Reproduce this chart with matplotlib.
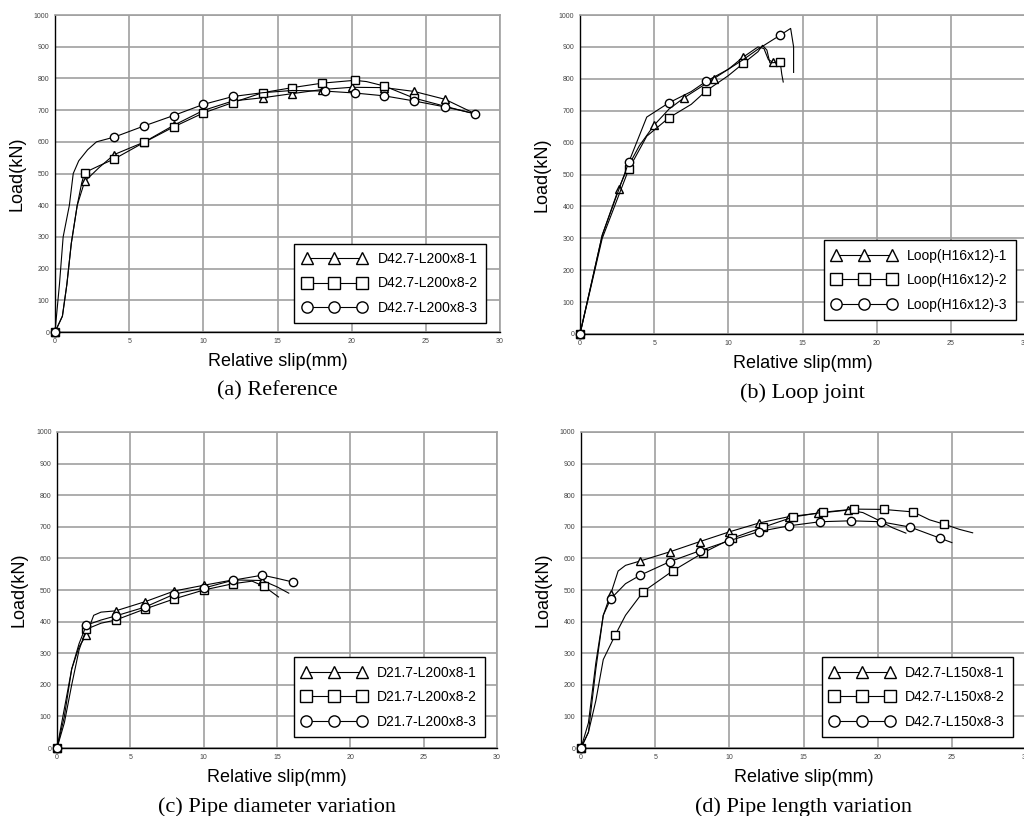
import matplotlib
matplotlib.use("Agg")
import matplotlib.pyplot as plt

plt.rcParams['font.family'] = ['Liberation Sans', 'DejaVu Sans']

# (a) Reference
a_labels = ['D42.7-L200x8-1', 'D42.7-L200x8-2', 'D42.7-L200x8-3']
a1_x = [0, 0.5, 0.8, 1.1, 1.5, 2, 3, 4, 6, 8, 10, 12, 14, 16, 18, 20, 22.2, 24.2, 26.3, 28.3]
a1_y = [0, 50, 150, 280, 400, 475, 520, 560, 599, 652, 699, 729, 739, 752, 765, 772, 771, 759, 734, 689]
a1_m = [0, 5, 7, 8, 9, 10, 11, 12, 13, 14, 15, 16, 17, 18]
a2_x = [0, 0.5, 0.8, 1.1, 1.5, 1.8, 2, 3, 4, 6, 8, 10, 12, 14, 16, 18, 20.2, 21, 22.2, 24.2, 26.3, 28.3]
a2_y = [0, 50, 150, 280, 400, 470, 503, 525, 546, 598, 647, 691, 724, 755, 771, 785, 794, 790, 776, 738, 712, 688]
a2_m = [0, 6, 8, 9, 10, 11, 12, 13, 14, 15, 16, 18, 19]
a3_x = [0, 0.3, 0.55, 0.97, 1.23, 1.6, 2.2, 2.8, 4, 6, 8, 10, 12, 14, 16, 18.2, 20.2, 22.2, 24.2, 26.3, 28.3]
a3_y = [0, 150, 300, 400, 500, 540, 575, 600, 615, 650, 683, 718, 743, 755, 762, 760, 754, 745, 729, 710, 689]
a3_m = [0, 8, 9, 10, 11, 12, 15, 16, 17, 18, 19, 20]

# (b) Loop joint
b_labels = ['Loop(H16x12)-1', 'Loop(H16x12)-2', 'Loop(H16x12)-3']
b1_x = [0, 1.5, 2.6, 3.3, 4, 5, 6, 7, 8, 9, 10, 11, 12, 12.4, 12.7, 13.0, 13.3]
b1_y = [0, 310, 455, 530, 590, 655, 705, 740, 770, 800, 830, 868, 900, 895, 860, 852, 850]
b1_m = [0, 2, 5, 7, 9, 11, 15]
b2_x = [0, 1.5, 3.3, 4.5, 6, 7.5, 8.5, 10, 11, 12, 12.3, 12.6, 12.8, 13.5, 13.6, 13.7]
b2_y = [0, 300, 518, 620, 678, 720, 762, 810, 848, 885, 905, 890, 850, 852, 815, 790]
b2_m = [0, 2, 4, 6, 8, 13]
b3_x = [0, 1.5, 3.3, 4.5, 6, 7.5, 8.5, 10, 11, 12, 13.5, 14.2, 14.4, 14.4]
b3_y = [0, 310, 540, 680, 725, 760, 792, 830, 860, 893, 937, 958, 900, 820]
b3_m = [0, 2, 4, 6, 10]

# (c) Pipe diameter variation
c_labels = ['D21.7-L200x8-1', 'D21.7-L200x8-2', 'D21.7-L200x8-3']
c1_x = [0, 0.5, 1, 1.5, 2, 2.5, 3, 4, 6, 8, 10, 12, 14, 15, 15.8]
c1_y = [0, 100, 250, 320, 358, 420, 430, 434, 463, 497, 515, 532, 530, 510, 490]
c1_m = [0, 4, 7, 8, 9, 10, 11, 12]
c2_x = [0, 0.5, 1, 1.5, 2, 3, 4, 6, 8, 10, 12, 13.3, 14.1, 14.6, 15.1]
c2_y = [0, 80, 200, 310, 376, 395, 405, 440, 472, 500, 520, 528, 512, 495, 478]
c2_m = [0, 4, 6, 7, 8, 9, 10, 12]
c3_x = [0, 0.4, 1, 1.5, 2, 3, 4, 6, 8, 10, 12, 14, 15, 16.1]
c3_y = [0, 100, 250, 330, 389, 405, 418, 446, 487, 506, 531, 547, 537, 525]
c3_m = [0, 4, 6, 7, 8, 9, 10, 11, 13]

# (d) Pipe length variation
d_labels = ['D42.7-L150x8-1', 'D42.7-L150x8-2', 'D42.7-L150x8-3']
d1_x = [0, 0.5, 1, 1.5, 2, 2.5, 3, 4, 6, 8, 10, 12, 14, 16, 18, 19, 20, 21, 21.9]
d1_y = [0, 50, 250, 420, 487, 560, 578, 592, 621, 653, 684, 712, 732, 743, 753, 745, 722, 697, 680]
d1_m = [0, 4, 7, 8, 9, 10, 11, 12, 13, 14]
d2_x = [0, 0.5, 1, 1.5, 2.3, 3, 4.2, 6.2, 8.2, 10.2, 12.3, 14.3, 16.3, 18.4, 20.4, 22.4, 23.5, 24.5, 25.5, 26.4]
d2_y = [0, 50, 150, 280, 357, 420, 495, 561, 617, 664, 699, 731, 746, 756, 755, 747, 722, 708, 692, 681]
d2_m = [0, 4, 6, 7, 8, 9, 10, 11, 12, 13, 14, 15, 17]
d3_x = [0, 0.5, 1, 1.5, 2, 3, 4, 6, 8, 10, 12, 14, 16.1, 18.2, 20.2, 22.2, 24.2, 25]
d3_y = [0, 80, 270, 420, 472, 520, 547, 590, 624, 656, 685, 703, 716, 719, 716, 699, 664, 650]
d3_m = [0, 4, 6, 7, 8, 9, 10, 11, 12, 13, 14, 15, 16]

panels = [
    ([0.0537, 0.5931, 0.4346, 0.3885], a_labels, [(a1_x, a1_y, a1_m), (a2_x, a2_y, a2_m), (a3_x, a3_y, a3_m)],
     '(a) Reference', (0.9685, 0.028)),
    ([0.5664, 0.5907, 0.4346, 0.3909], b_labels, [(b1_x, b1_y, b1_m), (b2_x, b2_y, b2_m), (b3_x, b3_y, b3_m)],
     '(b) Loop joint', (0.980, 0.044)),
    ([0.0557, 0.0833, 0.4297, 0.3873], c_labels, [(c1_x, c1_y, c1_m), (c2_x, c2_y, c2_m), (c3_x, c3_y, c3_m)],
     '(c) Pipe diameter variation', (0.973, 0.035)),
    ([0.5674, 0.0833, 0.4346, 0.3873], d_labels, [(d1_x, d1_y, d1_m), (d2_x, d2_y, d2_m), (d3_x, d3_y, d3_m)],
     '(d) Pipe length variation', (0.971, 0.035)),
]
markers = ['^', 's', 'o']

fig = plt.figure(figsize=(10.24, 8.16), dpi=100)

for pos, labels, series, caption, anchor in panels:
    ax = fig.add_axes(pos)
    for (xs, ys, mk), m, lab in zip(series, markers, labels):
        ax.plot(xs, ys, color='black', lw=0.8, marker=m, markevery=mk, ms=6,
                mfc='white', mec='black', mew=1.0, label=lab, clip_on=False, zorder=3)
    ax.set_xlim(0, 30)
    ax.set_ylim(0, 1000)
    ax.set_xticks(range(0, 31, 5))
    ax.set_yticks(range(0, 1001, 100))
    ax.grid(True, color='#a0a0a0', lw=1.2)
    ax.set_axisbelow(True)
    ax.tick_params(length=0, labelsize=5, colors='#444444', pad=4)
    for s in ['top', 'right']:
        ax.spines[s].set_color('#a0a0a0')
        ax.spines[s].set_linewidth(1.2)
    for s in ['left', 'bottom']:
        ax.spines[s].set_color('black')
        ax.spines[s].set_linewidth(1.0)
    ax.set_xlabel('Relative slip(mm)', fontsize=13, labelpad=6)
    ax.set_ylabel('Load(kN)', fontsize=13, labelpad=6)
    leg = ax.legend(loc='lower right', bbox_to_anchor=anchor, borderaxespad=0,
                    numpoints=3, handlelength=4.6, handletextpad=0.8, markerscale=1.35,
                    fontsize=10, labelspacing=0.75, fancybox=False, framealpha=1,
                    edgecolor='black', borderpad=0.6)
    leg.get_frame().set_linewidth(1.0)
    ax.text(0.5, -0.155, caption, transform=ax.transAxes, ha='center', va='top',
            fontsize=16, family=['Liberation Serif', 'DejaVu Serif'])

fig.savefig('out.png', dpi=100)
